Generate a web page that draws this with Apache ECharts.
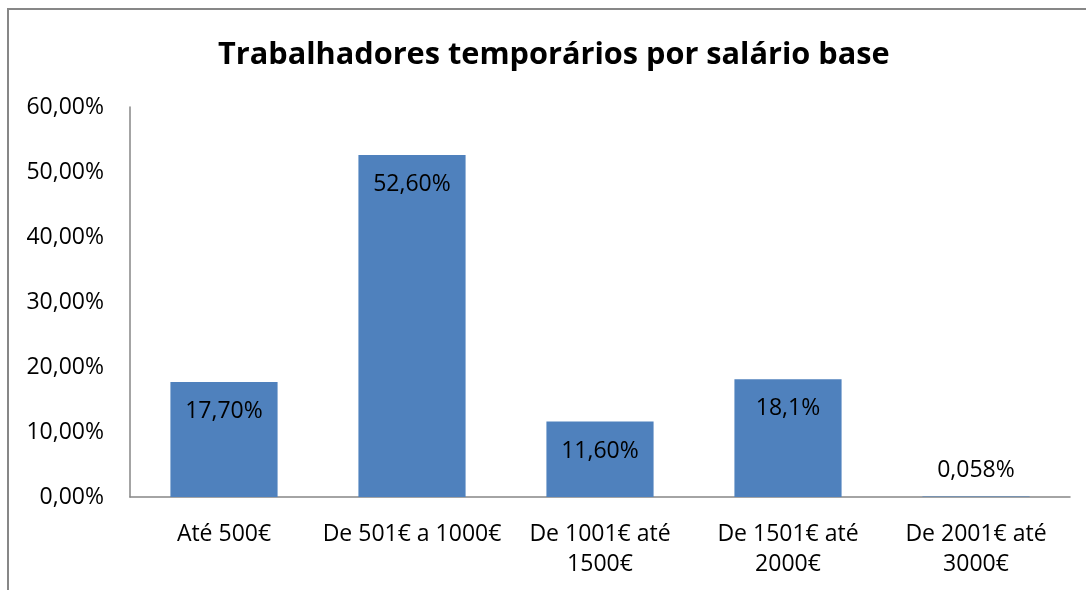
<!DOCTYPE html>
<html>
<head>
<meta charset="utf-8">
<script src="https://cdn.jsdelivr.net/npm/echarts@6/dist/echarts.min.js"></script>
<style>
  html, body { margin: 0; padding: 0; background: #fff; }
  #chart { width: 1086px; height: 590px; }
</style>
</head>
<body>
<div id="chart"></div>
<script>
var titleText = 'Trabalhadores temporários por salário base';
var categories = ['Até 500€', 'De 501€ a 1000€', 'De 1001€ até\n1500€', 'De 1501€ até\n2000€', 'De 2001€ até\n3000€'];
var values = [17.7, 52.6, 11.6, 18.1, 0.058];
var valueLabels = ['17,70%', '52,60%', '11,60%', '18,1%', '0,058%'];

var fontFamily = '"Open Sans", "Noto Sans", sans-serif';
var chart = echarts.init(document.getElementById('chart'));

// barras com rótulo dentro do topo, a última (quase zero) por cima
var barData = values.map(function (v, i) {
    var item = { value: v };
    if (v < 1) {
        item.label = { position: 'top', distance: 15 };
    }
    return item;
});

var option = {
    animation: false,
    title: {
        text: titleText,
        left: 213,
        top: 35,
        textStyle: {
            fontFamily: fontFamily,
            fontSize: 30.7,
            fontWeight: 'bold',
            color: '#000'
        }
    },
    graphic: [{
        type: 'rect',
        shape: { x: 8, y: 9, width: 1100, height: 600 },
        style: { fill: 'none', stroke: '#878787', lineWidth: 2 },
        silent: true
    }],
    grid: {
        left: 130,
        right: 16,
        top: 107,
        bottom: 93
    },
    xAxis: {
        type: 'category',
        data: categories,
        axisTick: { show: false },
        axisLine: { lineStyle: { color: '#868686', width: 1.5 } },
        axisLabel: {
            interval: 0,
            margin: 22,
            fontFamily: fontFamily,
            fontSize: 23,
            lineHeight: 30,
            color: '#000'
        }
    },
    yAxis: {
        type: 'value',
        min: 0,
        max: 60,
        interval: 10,
        axisLine: { show: true, lineStyle: { color: '#868686', width: 1.5 } },
        axisTick: { show: false },
        splitLine: { show: false },
        axisLabel: {
            margin: 26,
            fontFamily: fontFamily,
            fontSize: 23,
            color: '#000',
            formatter: function (val) {
                return val.toFixed(2).replace('.', ',') + '%';
            }
        }
    },
    series: [{
        type: 'bar',
        data: barData,
        barWidth: '57%',
        itemStyle: { color: '#4F81BD' },
        label: {
            show: true,
            position: 'insideTop',
            distance: 18,
            fontFamily: fontFamily,
            fontSize: 23,
            color: '#000',
            formatter: function (p) {
                return valueLabels[p.dataIndex];
            }
        }
    }]
};

chart.setOption(option);
</script>
</body>
</html>
